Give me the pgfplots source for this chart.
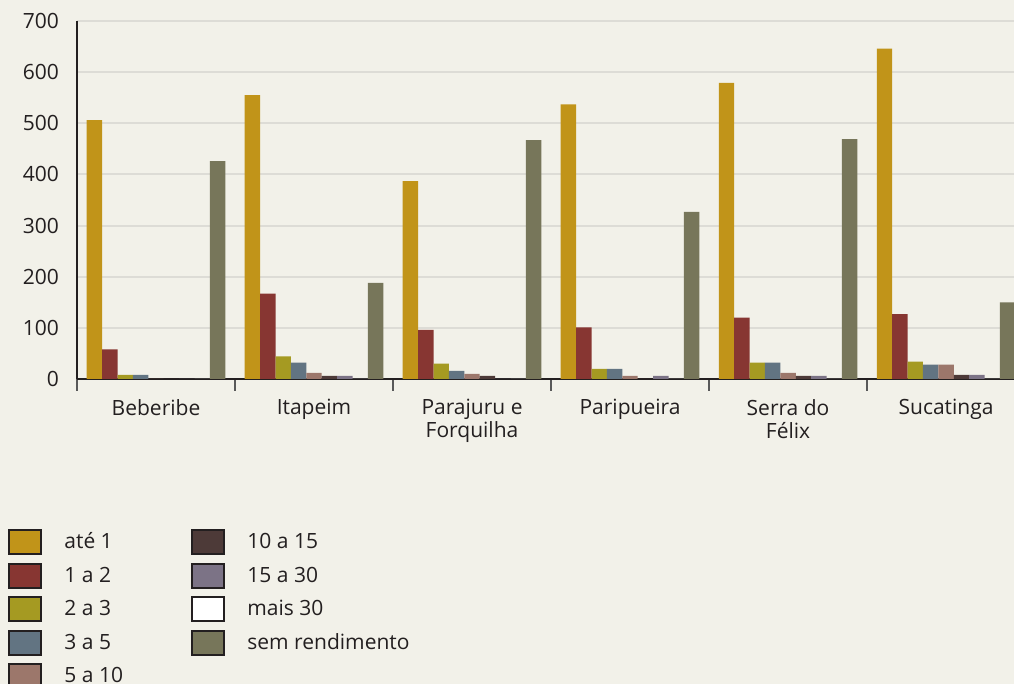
\documentclass[border=0pt]{standalone}
\usepackage{fontspec}
\setmainfont{Open Sans}
\usepackage{pgfplots}
\pgfplotsset{compat=1.18}
\definecolor{bg}{HTML}{F2F1E9}
\definecolor{c1}{HTML}{C19419}
\definecolor{c2}{HTML}{873632}
\definecolor{c3}{HTML}{A59A22}
\definecolor{c4}{HTML}{627482}
\definecolor{c5}{HTML}{9C776B}
\definecolor{c6}{HTML}{4D3A38}
\definecolor{c7}{HTML}{7C7386}
\definecolor{c8}{HTML}{FFFFFF}
\definecolor{c9}{HTML}{77765A}
\definecolor{gridc}{HTML}{DDDCD6}
\definecolor{txt}{HTML}{231F20}
\newcommand{\chfont}{\fontsize{10.5pt}{11.5pt}\selectfont}
\begin{document}
\begin{tikzpicture}
\fill[bg] (-38.5pt,-152.5pt) rectangle (468.5pt,189.5pt);
\begin{axis}[
  at={(0,0)}, anchor=south west,
  scale only axis, width=468.5pt, height=179pt,
  ybar=0pt, bar width=7.7pt,
  xmin=-0.5, xmax=5.43, ymin=0, ymax=700,
  ytick={0,100,...,700},
  xtick={0,...,5},
  xticklabels={Beberibe, Itapeim, {Parajuru e\\Forquilha}, Paripueira, {Serra do\\Félix}, Sucatinga},
  minor xtick={-0.5,0.5,1.5,2.5,3.5,4.5},
  axis x line*=bottom, axis y line*=left,
  axis line style={txt, line width=1pt, -},
  major tick length=0pt,
  minor tick length=6pt,
  tick align=outside,
  minor tick style={black!65, line width=1pt},
  ymajorgrids, grid style={gridc, line width=1pt},
  /pgf/number format/assume math mode=true,
  tick label style={text=txt, font=\chfont},
  yticklabel style={xshift=-5.5pt},
  xticklabel style={align=center, yshift=-6.5pt},
  legend image code/.code={\draw[#1, draw=txt, line width=1pt] (0pt,-6pt) rectangle (16pt,6pt);},
  transpose legend, legend columns=5,
  legend cell align=left,
  legend style={at={(axis description cs:-0.0736,-0.419)}, anchor=north west,
    draw=none, fill=none, inner sep=0pt, row sep=3.75pt, column sep=11pt,
    nodes={inner sep=0pt, text=txt, font=\chfont}},
]
\addplot[fill=c1, draw=none] coordinates {(0,506) (1,555) (2,387) (3,537) (4,579) (5,646)};
\addlegendentry{\makebox[52.5pt][l]{até 1}}
\addplot[fill=c2, draw=none] coordinates {(0,58) (1,167) (2,96) (3,101) (4,120) (5,127)};
\addlegendentry{\makebox[52.5pt][l]{1 a 2}}
\addplot[fill=c3, draw=none] coordinates {(0,8) (1,44) (2,30) (3,20) (4,32) (5,34)};
\addlegendentry{\makebox[52.5pt][l]{2 a 3}}
\addplot[fill=c4, draw=none] coordinates {(0,8) (1,32) (2,16) (3,20) (4,32) (5,28)};
\addlegendentry{\makebox[52.5pt][l]{3 a 5}}
\addplot[fill=c5, draw=none] coordinates {(0,0) (1,12) (2,10) (3,6) (4,12) (5,28)};
\addlegendentry{\makebox[52.5pt][l]{5 a 10}}
\addplot[fill=c6, draw=none] coordinates {(0,0) (1,6) (2,6) (3,0) (4,6) (5,8)};
\addlegendentry{10 a 15}
\addplot[fill=c7, draw=none] coordinates {(0,0) (1,6) (2,0) (3,6) (4,6) (5,8)};
\addlegendentry{15 a 30}
\addplot[fill=c8, draw=none] coordinates {(0,0) (1,0) (2,0) (3,0) (4,0) (5,0)};
\addlegendentry{mais 30}
\addplot[fill=c9, draw=none] coordinates {(0,426) (1,188) (2,467) (3,327) (4,469) (5,150)};
\addlegendentry{sem rendimento}
\end{axis}
\pgfresetboundingbox
\path[use as bounding box] (-38.5pt,-152.5pt) rectangle (468.5pt,189.5pt);
\end{tikzpicture}
\end{document}
